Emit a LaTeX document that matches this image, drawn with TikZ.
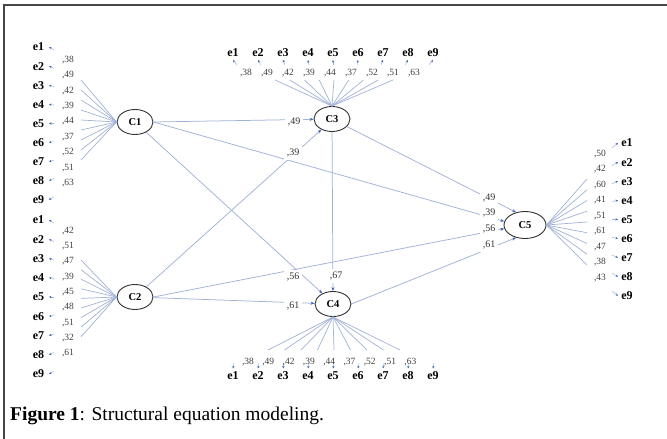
\documentclass[tikz,border=0pt]{standalone}
\usepackage{fontspec}
\setmainfont{Liberation Serif}
\usetikzlibrary{arrows.meta,shapes.geometric}
\definecolor{pathc}{RGB}{160,178,216}
\definecolor{arrc}{RGB}{60,95,185}
\definecolor{framec}{RGB}{70,70,70}
\tikzset{
 lat/.style={ellipse, draw=black!80, line width=0.9pt, minimum width=36pt, minimum height=25pt, inner sep=0pt, font=\fontsize{10.5}{10.5}\selectfont\bfseries, fill=white},
 ind/.style={font=\fontsize{12}{12}\selectfont\bfseries, inner sep=0pt},
 num/.style={font=\fontsize{9.5}{10}\selectfont, text=black!75, inner sep=0.5pt},
 lbl/.style={font=\fontsize{10}{10}\selectfont, text=black!80, fill=white, inner sep=2.5pt},
 ld/.style={draw=pathc, line width=0.7pt},
 sp/.style={draw=pathc, line width=0.75pt, -{Stealth[length=4pt,width=3pt,color=arrc]}},
 tick/.style={draw=pathc, line width=0.5pt, -{Stealth[length=2.5pt,width=2.2pt,color=arrc]}},
}
\begin{document}
\begin{tikzpicture}[x=1pt,y=-1pt]
\useasboundingbox (0,0) rectangle (667,439);
% frame
\draw[framec, line width=1.6pt] (4,439) -- (4,5) -- (667,5);

% latent variables
\node[lat] (C1) at (135,122) {C1};
\node[lat] (C2) at (135,297) {C2};
\node[lat] (C3) at (332,119) {C3};
\node[lat] (C4) at (333,304) {C4};
\node[lat, minimum width=42pt, minimum height=27pt] (C5) at (525,225) {C5};

% measurement lines
\foreach \i in {0,...,8} {
  \coordinate (a\i) at (81,{80+10*\i});
  \coordinate (b\i) at (81,{260+9.6*\i});
  \coordinate (t\i) at ({275+14.75*\i},80);
  \coordinate (u\i) at ({268+16.5*\i},350);
  \coordinate (r\i) at (587,{179+10.75*\i});
  \draw[ld] (C1.west) -- (a\i);
  \draw[ld] (C2.west) -- (b\i);
  \draw[ld] (C3.north) -- (t\i);
  \draw[ld] (C4.south) -- (u\i);
  \draw[ld] (C5.east) -- (r\i);
}

% indicators, loadings, ticks
\foreach \n/\v in {1/38,2/49,3/42,4/39,5/44,6/37,7/52,8/51,9/63} {
  \pgfmathsetmacro{\k}{\n-1}
  % C1 group
  \node[ind] (le\n) at (38.5,{47+19.1*\k}) {e\n};
  \draw[tick] (54,{47+19.1*\k+3-0.75*\k}) -- (49,{47+19.1*\k});
  \node[num] (ln\n) at (68,{60+15.4*\k}) {,\v};
  % C3 group
  \node[ind] (te\n) at ({233+25*\k},53) {e\n};
  \draw[tick] ({233+25*\k+(4-\k)},65) -- ({233+25*\k},60);
  \node[num] (tn\n) at ({246+21*\k},73) {,\v};
  % C4 group
  \node[ind] (be\n) at ({233+25*\k},376) {e\n};
  \draw[tick] ({233+25*\k+1},363) -- ({233+25*\k},368.5);
  \node[num] (bn\n) at ({248+20.3*\k},362) {,\v};
}
\foreach \n/\v in {1/42,2/51,3/47,4/39,5/45,6/48,7/51,8/32,9/61} {
  \pgfmathsetmacro{\k}{\n-1}
  \node[ind] (me\n) at (38.5,{220+19.25*\k}) {e\n};
  \draw[tick] (54,{220+19.25*\k+3-0.75*\k}) -- (49,{220+19.25*\k});
  \node[num] (mn\n) at (68,{231+15.3*\k}) {,\v};
}
\foreach \n/\v in {1/50,2/42,3/60,4/41,5/51,6/61,7/47,8/38,9/43} {
  \pgfmathsetmacro{\k}{\n-1}
  \node[ind] (re\n) at (627,{143+19.1*\k}) {e\n};
  \draw[tick] (612,{143+19.1*\k+(4-\k)*1.2}) -- (618,{143+19.1*\k});
  \node[num] (rn\n) at (600,{154+15.5*\k}) {,\v};
}

% structural paths
\draw[sp] (C1.east) -- (C3);
\draw[sp] (C1.east) -- (C5.170);
\draw[sp] (C1) -- (C4.135);
\draw[sp] (C2) -- (C3.225);
\draw[sp] (C2.east) -- (C5.190);
\draw[sp] (C2) -- (C4);
\draw[sp] (C3) -- (C4);
\draw[sp] (C3) -- (C5.125);
\draw[sp] (C4.east) -- (C5.235);

% path labels
\node[lbl] (p1) at (294,122) {,49};
\node[lbl] (p2) at (293,153) {,39};
\node[lbl] (p3) at (293,277) {,56};
\node[lbl] (p4) at (293,306) {,61};
\node[lbl] (p5) at (336,276) {,67};
\node[lbl] (q1) at (489,198) {,49};
\node[lbl] (q2) at (489,213) {,39};
\node[lbl] (q3) at (489,229) {,56};
\node[lbl] (q4) at (489,245) {,61};

% caption
\node[anchor=west, inner sep=0pt, font=\fontsize{19.5}{22}\selectfont] (cap) at (10,416) {\textbf{Figure 1}: Structural equation modeling.};
\end{tikzpicture}
\end{document}
